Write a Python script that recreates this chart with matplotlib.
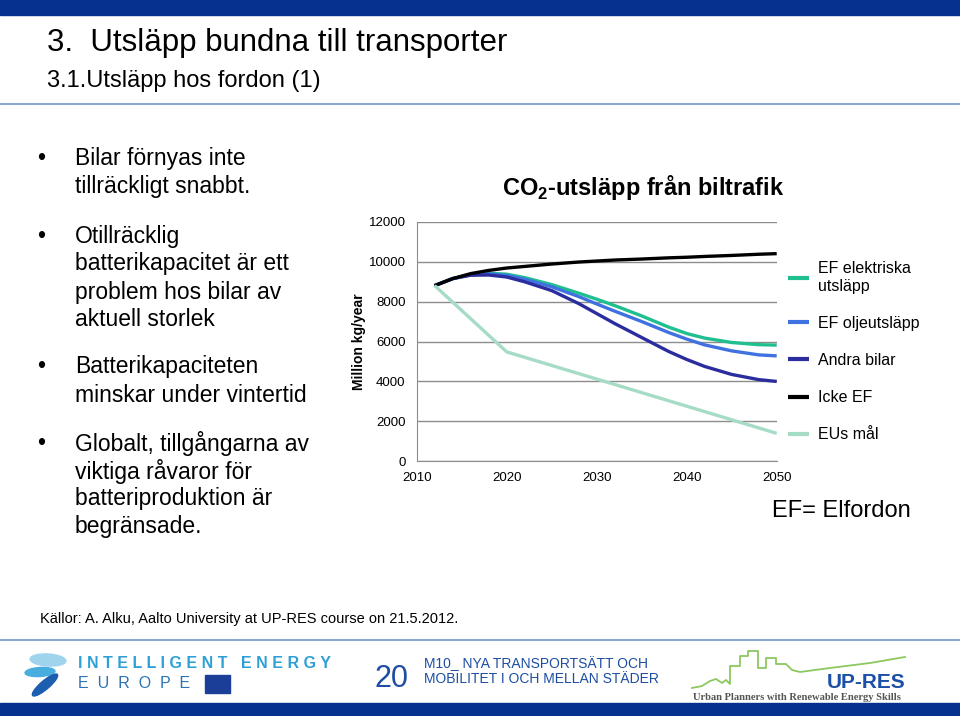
import matplotlib
matplotlib.use("Agg")
import matplotlib.pyplot as plt
from matplotlib.patches import Rectangle, Ellipse
from matplotlib.lines import Line2D

plt.rcParams['font.family'] = ['Liberation Sans', 'DejaVu Sans']
plt.rcParams['mathtext.fontset'] = 'custom'
plt.rcParams['mathtext.rm'] = 'Liberation Sans'
plt.rcParams['mathtext.bf'] = 'Liberation Sans:bold'

# data
years = [2012, 2014, 2016, 2018, 2020, 2022, 2025, 2028, 2030, 2032,
         2035, 2038, 2040, 2042, 2045, 2048, 2050]
ef_el = [8800, 9150, 9350, 9420, 9370, 9200, 8850, 8420, 8120, 7800,
         7280, 6720, 6400, 6170, 5950, 5840, 5820]
ef_olja = [8800, 9150, 9340, 9390, 9310, 9120, 8740, 8250, 7880, 7520,
           7000, 6450, 6120, 5830, 5530, 5330, 5280]
andra = [8800, 9150, 9320, 9330, 9230, 8990, 8550, 7900, 7400, 6900,
         6200, 5500, 5100, 4750, 4350, 4090, 4000]
icke_ef = [8800, 9150, 9400, 9560, 9680, 9760, 9880, 9980, 10030, 10080,
           10130, 10190, 10220, 10260, 10310, 10370, 10400]
eu_years = [2012, 2020, 2050]
eu_mal = [8800, 5480, 1400]

labels = ["EF elektriska\nutsläpp", "EF oljeutsläpp", "Andra bilar", "Icke EF", "EUs mål"]
colors = ["#1fbf8f", "#3f72e0", "#2b2d9e", "#000000", "#a6dcc6"]

bullets = [
    "Bilar förnyas inte\ntillräckligt snabbt.",
    "Otillräcklig\nbatterikapacitet är ett\nproblem hos bilar av\naktuell storlek",
    "Batterikapaciteten\nminskar under vintertid",
    "Globalt, tillgångarna av\nviktiga råvaror för\nbatteriproduktion är\nbegränsade.",
]
bullet_y = [158, 236, 367, 443]

W, H = 960, 716
fig = plt.figure(figsize=(9.6, 7.16), dpi=100)


def fy(y):
    return 1 - y / H


# slide decoration
navy = "#06318f"
fig.add_artist(Rectangle((0, fy(15)), 1, 15 / H, transform=fig.transFigure,
                         color=navy, zorder=0))
fig.add_artist(Rectangle((0, 0), 1, 13 / H, transform=fig.transFigure,
                         color=navy, zorder=0))
fig.add_artist(Line2D([0, 1], [fy(104), fy(104)], transform=fig.transFigure,
                      color="#8fa8cf", lw=1.5))
fig.add_artist(Line2D([0, 1], [fy(640), fy(640)], transform=fig.transFigure,
                      color="#8fa8cf", lw=1.5))

fig.text(47 / W, fy(43), "3.  Utsläpp bundna till transporter", fontsize=22.5,
         va="center", ha="left")
fig.text(47 / W, fy(81), "3.1.Utsläpp hos fordon (1)", fontsize=17,
         va="center", ha="left")

# bullet list, one text per line, 28 px apart
for txt, y in zip(bullets, bullet_y):
    fig.text(37 / W, fy(y), "•", fontsize=16.5, va="center", ha="left")
    for i, line in enumerate(txt.split("\n")):
        fig.text(75 / W, fy(y + 28 * i), line, fontsize=16.5, va="center", ha="left")

# chart
ax = fig.add_axes([416.7 / W, fy(461.3), 360 / W, 239.6 / H])
series = [ef_el, ef_olja, andra, icke_ef]
for vals, lab, c in zip(series, labels[:4], colors[:4]):
    ax.plot(years, vals, color=c, lw=2.4, label=lab, solid_capstyle="butt",
            solid_joinstyle="round")
ax.plot(eu_years, eu_mal, color=colors[4], lw=2.4, label=labels[4],
        solid_capstyle="butt")

ax.set_xlim(2010, 2050)
ax.set_ylim(0, 12000)
ax.set_xticks([2010, 2020, 2030, 2040, 2050])
ax.set_yticks(range(0, 12001, 2000))
ax.yaxis.grid(True, color="#8c8c8c", lw=1)
ax.set_axisbelow(True)
for s in ["top", "right"]:
    ax.spines[s].set_visible(False)
for s in ["left", "bottom"]:
    ax.spines[s].set_color("#8c8c8c")
ax.tick_params(length=0, labelsize=9.5, pad=8)
ax.set_ylabel("Million kg/year", fontsize=10, fontweight="bold", labelpad=2)
ax.set_facecolor("none")

ax.set_title(r"CO$_\mathbf{2}$-utsläpp från biltrafik", fontsize=17,
             fontweight="bold", x=0.63, y=1.0, pad=19)

leg = ax.legend(loc="upper left", bbox_to_anchor=(788 / W, fy(261)),
                bbox_transform=fig.transFigure, frameon=False, fontsize=11.5,
                handlelength=1.3, handletextpad=0.6, labelspacing=1.38,
                borderpad=0, borderaxespad=0)
for h in leg.legend_handles:
    h.set_linewidth(3)
leg.get_texts()[0].set_linespacing(1.25)

fig.text(772 / W, fy(511), "EF= Elfordon", fontsize=17, va="center", ha="left")
fig.text(40 / W, fy(619), "Källor: A. Alku, Aalto University at UP-RES course on 21.5.2012.",
         fontsize=10.5, va="center", ha="left")

# footer: Intelligent Energy Europe logo
fig.add_artist(Ellipse((48 / W, fy(660)), 36 / W, 12 / H, angle=-5,
                       transform=fig.transFigure, color="#9fd3ee"))
fig.add_artist(Ellipse((40 / W, fy(672)), 30 / W, 9 / H, angle=5,
                       transform=fig.transFigure, color="#48aee0"))
fig.add_artist(Ellipse((45 / W, fy(685)), 10 / W, 28 / H, angle=-40,
                       transform=fig.transFigure, color="#1c5fb0"))
fig.text(78 / W, fy(663), "I N T E L L I G E N T   E N E R G Y", fontsize=11.5,
         fontweight="bold", color="#2ea0d6", va="center", ha="left")
fig.text(78 / W, fy(683), "E  U  R  O  P  E", fontsize=11.5,
         color="#2b73b5", va="center", ha="left")
fig.add_artist(Rectangle((205 / W, fy(693)), 25 / W, 18 / H,
                         transform=fig.transFigure, color="#1b3f99"))

fig.text(391 / W, fy(679), "20", fontsize=22, color="#1d4ea3", va="center", ha="center")
fig.text(424 / W, fy(671), "M10_ NYA TRANSPORTSÄTT OCH\nMOBILITET I OCH MELLAN STÄDER",
         fontsize=10, color="#1d4ea3", va="center", ha="left", linespacing=1.05)

# footer: UP-RES logo
fig.text(905 / W, fy(683), "UP-RES", fontsize=15, fontweight="bold",
         color="#1c4fa8", va="center", ha="right")
fig.text(797 / W, fy(698), "Urban Planners with Renewable Energy Skills",
         fontsize=7.6, fontfamily="Liberation Serif", fontweight="bold",
         color="#555555", va="center", ha="center")
sky_x = [692, 702, 710, 716, 722, 726, 730, 730, 740, 740, 748, 748, 758, 758,
         766, 766, 776, 776, 786, 792, 800, 830, 870, 905]
sky_y = [688, 686, 681, 679, 683, 680, 684, 666, 666, 656, 656, 651, 651, 668,
         668, 658, 658, 664, 664, 670, 672, 668, 663, 657]
fig.add_artist(Line2D([x / W for x in sky_x], [fy(y) for y in sky_y],
                      transform=fig.transFigure, color="#8cc860", lw=1.3))

fig.savefig("out.png", dpi=100)
